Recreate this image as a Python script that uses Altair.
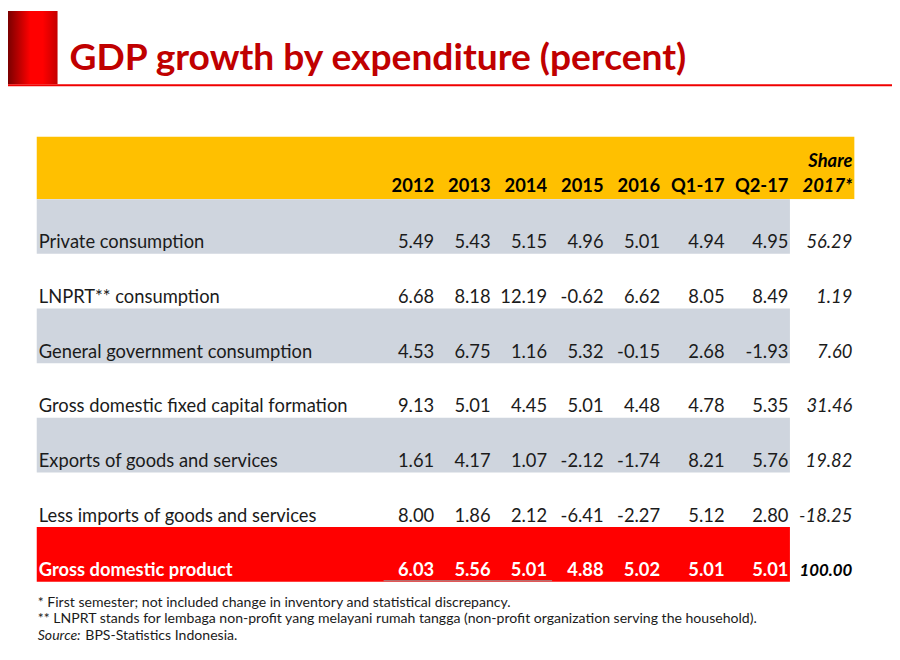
import altair as alt
import pandas as pd

# ---------------- data ----------------
title_text = "GDP growth by expenditure (percent)"
columns = ["2012", "2013", "2014", "2015", "2016", "Q1-17", "Q2-17"]
share_header = ["Share", "2017*"]
row_labels = [
    "Private consumption",
    "LNPRT** consumption",
    "General government consumption",
    "Gross domestic fixed capital formation",
    "Exports of goods and services",
    "Less imports of goods and services",
    "Gross domestic product",
]
private_consumption = [5.49, 5.43, 5.15, 4.96, 5.01, 4.94, 4.95]
lnprt_consumption = [6.68, 8.18, 12.19, -0.62, 6.62, 8.05, 8.49]
government_consumption = [4.53, 6.75, 1.16, 5.32, -0.15, 2.68, -1.93]
fixed_capital_formation = [9.13, 5.01, 4.45, 5.01, 4.48, 4.78, 5.35]
exports = [1.61, 4.17, 1.07, -2.12, -1.74, 8.21, 5.76]
less_imports = [8.00, 1.86, 2.12, -6.41, -2.27, 5.12, 2.80]
gdp = [6.03, 5.56, 5.01, 4.88, 5.02, 5.01, 5.01]
share_2017 = [56.29, 1.19, 7.60, 31.46, 19.82, -18.25, 100.00]
footnote_1 = "* First semester; not included change in inventory and statistical discrepancy."
footnote_2 = "** LNPRT stands for lembaga non-profit yang melayani rumah tangga (non-profit organization serving the household)."
source_label = "Source:"
source_text = "BPS-Statistics Indonesia."

series = [private_consumption, lnprt_consumption, government_consumption,
          fixed_capital_formation, exports, less_imports, gdp]

# ---------------- tables built from the arrays ----------------
kinds = ["grey" if i % 2 == 0 else "white" for i in range(len(row_labels))]
kinds[-1] = "total"
rows_df = pd.DataFrame({"row": row_labels, "kind": kinds})

cells = []
for r, (lab, vals) in enumerate(zip(row_labels, series)):
    for c, (col, v) in enumerate(zip(columns, vals)):
        cells.append({"row": lab, "kind": kinds[r], "ci": c, "label": f"{v:.2f}", "share": False})
    cells.append({"row": lab, "kind": kinds[r], "ci": len(columns),
                  "label": f"{share_2017[r]:.2f}", "share": True})
cells_df = pd.DataFrame(cells)

head_df = pd.DataFrame({"col": columns, "ci": list(range(len(columns)))})
share_head_df = pd.DataFrame({"line": share_header, "ci": [len(columns)] * 2, "k": [0, 1]})
one = pd.DataFrame({"a": [0]})

FONT = "Lato, sans-serif"
INK = "#1b1b1b"
W, H = 892, 652
FS = 18.5    # body font size
DY = 22      # baseline offset from band centre
HFS = 18.5   # header font size
NFS = 14.2   # footnote font size

xscale = alt.Scale(domain=[0, 4, 5, 7], range=[430, 658, 723, 852], nice=False, zero=False)
yscale = alt.Scale(domain=row_labels, range=[190, 576], paddingInner=0, paddingOuter=0)
X = alt.X("ci:Q", scale=xscale, axis=None)
Y = alt.Y("row:N", scale=yscale, axis=None)

# ---------------- header decoration ----------------
grad = alt.LinearGradient(
    gradient="linear", x1=0, x2=1, y1=0, y2=0,
    stops=[alt.GradientStop(color="#7a0000", offset=0),
           alt.GradientStop(color="#ff0000", offset=0.45),
           alt.GradientStop(color="#ff0000", offset=0.7),
           alt.GradientStop(color="#c40000", offset=1)])
side_bar = alt.Chart(one).mark_rect(color=grad).encode(
    x=alt.value(0), x2=alt.value(50), y=alt.value(0), y2=alt.value(74))
red_line = alt.Chart(one).mark_rule(color="#f00000", strokeWidth=2).encode(
    x=alt.value(0), x2=alt.value(W), y=alt.value(75))
title = alt.Chart(pd.DataFrame({"t": [title_text]})).mark_text(
    font=FONT, fontSize=37.5, fontWeight="bold", color="#c00000", align="left", baseline="alphabetic"
).encode(text="t:N", x=alt.value(62), y=alt.value(60))

# ---------------- table backgrounds ----------------
header_bg = alt.Chart(one).mark_rect(color="#ffc000").encode(
    x=alt.value(29), x2=alt.value(854), y=alt.value(127), y2=alt.value(190))
table_bg = alt.Chart(one).mark_rect(color="#ffffff").encode(
    x=alt.value(29), x2=alt.value(854), y=alt.value(190), y2=alt.value(576))
row_bg = alt.Chart(rows_df).transform_filter("datum.kind != 'white'").mark_rect().encode(
    y=Y, x=alt.value(29), x2=alt.value(789),
    color=alt.Color("kind:N", scale=alt.Scale(domain=["grey", "total"], range=["#cfd5de", "#ff0000"]), legend=None))
underline = alt.Chart(one).mark_rule(color="#9a9a9a", strokeWidth=1).encode(
    x=alt.value(379), x2=alt.value(549), y=alt.value(575))

# ---------------- header text ----------------
head_years = alt.Chart(head_df).mark_text(
    font=FONT, fontSize=HFS, fontWeight="bold", color="#000000", align="right", baseline="alphabetic"
).encode(x=X, y=alt.value(183), text="col:N")
head_share = alt.Chart(share_head_df).mark_text(
    font=FONT, fontSize=HFS, fontWeight="bold", fontStyle="italic", color="#000000", align="right", baseline="alphabetic"
).encode(x=X, y=alt.Y("k:Q", scale=alt.Scale(domain=[0, 1], range=[157, 183], nice=False, zero=False), axis=None),
         text="line:N")

# ---------------- body text ----------------
labels_plain = alt.Chart(rows_df).transform_filter("datum.kind != 'total'").mark_text(
    font=FONT, fontSize=FS, color=INK, align="left", baseline="alphabetic", dy=DY
).encode(y=Y, x=alt.value(31), text="row:N")
labels_total = alt.Chart(rows_df).transform_filter("datum.kind == 'total'").mark_text(
    font=FONT, fontSize=FS, fontWeight="bold", color="#ffffff", align="left", baseline="alphabetic", dy=DY
).encode(y=Y, x=alt.value(31), text="row:N")

vals_plain = alt.Chart(cells_df).transform_filter("datum.kind != 'total' && !datum.share").mark_text(
    font=FONT, fontSize=FS, color=INK, align="right", baseline="alphabetic", dy=DY
).encode(x=X, y=Y, text="label:N")
vals_share = alt.Chart(cells_df).transform_filter("datum.kind != 'total' && datum.share").mark_text(
    font=FONT, fontSize=FS, fontStyle="italic", color=INK, align="right", baseline="alphabetic", dy=DY
).encode(x=X, y=Y, text="label:N")
vals_total = alt.Chart(cells_df).transform_filter("datum.kind == 'total' && !datum.share").mark_text(
    font=FONT, fontSize=FS, fontWeight="bold", color="#ffffff", align="right", baseline="alphabetic", dy=DY
).encode(x=X, y=Y, text="label:N")
vals_total_share = alt.Chart(cells_df).transform_filter("datum.kind == 'total' && datum.share").mark_text(
    font=FONT, fontSize=17, fontWeight="bold", fontStyle="italic", color="#000000", align="right", baseline="alphabetic", dy=DY
).encode(x=X, y=Y, text="label:N")

# ---------------- footnotes ----------------
notes_df = pd.DataFrame({"t": [footnote_1, footnote_2], "k": [0, 1]})
notes = alt.Chart(notes_df).mark_text(
    font=FONT, fontSize=NFS, color=INK, align="left", baseline="alphabetic"
).encode(x=alt.value(30),
         y=alt.Y("k:Q", scale=alt.Scale(domain=[0, 1], range=[601, 618], nice=False, zero=False), axis=None),
         text="t:N")
src_lab = alt.Chart(pd.DataFrame({"t": [source_label]})).mark_text(
    font=FONT, fontSize=NFS, fontStyle="italic", color=INK, align="left", baseline="alphabetic"
).encode(x=alt.value(30), y=alt.value(635), text="t:N")
src_txt = alt.Chart(pd.DataFrame({"t": [source_text]})).mark_text(
    font=FONT, fontSize=NFS, color=INK, align="left", baseline="alphabetic"
).encode(x=alt.value(78), y=alt.value(635), text="t:N")

chart = alt.layer(
    side_bar, red_line, title,
    header_bg, table_bg, row_bg, underline,
    head_years, head_share,
    labels_plain, labels_total,
    vals_plain, vals_share, vals_total, vals_total_share,
    notes, src_lab, src_txt,
).resolve_scale(y="independent").properties(
    width=W, height=H, padding=0, autosize=alt.AutoSizeParams(type="none"), background="#ffffff"
).configure_view(strokeWidth=0)

chart.save("out.html", embed_options={"renderer": "svg", "actions": False})
